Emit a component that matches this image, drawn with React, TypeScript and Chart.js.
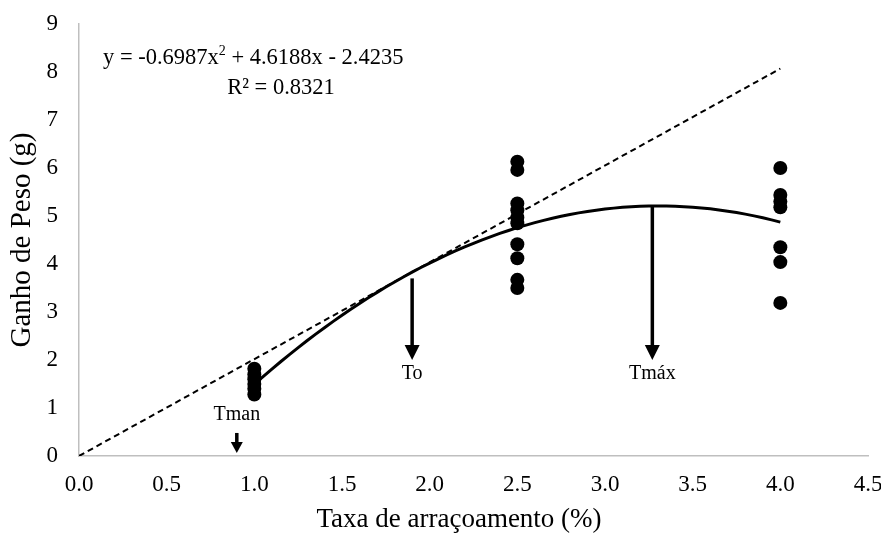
import React, { useEffect, useRef } from "react";
import { Chart, registerables } from "chart.js";

Chart.register(...registerables);

// ---- data ----
const gainAt10 = [1.82, 1.7, 1.6, 1.5, 1.4, 1.28];
const gainAt25 = [6.13, 5.96, 5.26, 5.12, 4.97, 4.85, 4.41, 4.12, 3.67, 3.5];
const gainAt40 = [6.0, 5.44, 5.3, 5.18, 4.35, 4.04, 3.19];
const feedRates = [1.0, 2.5, 4.0];

// trendline shown in the chart: y = a x^2 + b x + c
const trendCoef = [-0.6987, 4.6188, -2.4235];
const trendRange = [1.0, 4.0];
const rSquared = "0.8321";

// dashed tangent line through the origin
const tangentX = [0.0, 4.0];
const tangentY = [0.0, 8.07];

// reference arrows
const arrowLabels = ["Tman", "To", "Tmáx"];
const arrowX = [0.9, 1.9, 3.27];
const arrowTop = [0.48, 3.7, 5.21];
const arrowTip = [0.06, 2.0, 2.0];
const arrowLabelY = [0.85, 1.72, 1.72];

const xTicks = [0, 0.5, 1, 1.5, 2, 2.5, 3, 3.5, 4, 4.5];
const xTitle = "Taxa de arraçoamento (%)";
const yTitle = "Ganho de Peso (g)";

const FONT = "'Liberation Serif', 'Times New Roman', serif";

function buildTrend() {
  const pts: { x: number; y: number }[] = [];
  const [a, b, c] = trendCoef;
  const n = 60;
  for (let i = 0; i <= n; i++) {
    const x = trendRange[0] + ((trendRange[1] - trendRange[0]) * i) / n;
    pts.push({ x, y: a * x * x + b * x + c });
  }
  return pts;
}

const annotationPlugin = {
  id: "annotations",
  afterDatasetsDraw(chart: any) {
    const ctx: CanvasRenderingContext2D = chart.ctx;
    const xs = chart.scales.x;
    const ys = chart.scales.y;
    ctx.save();
    ctx.fillStyle = "#000";
    ctx.strokeStyle = "#000";

    // arrows
    arrowX.forEach((xv, i) => {
      const px = xs.getPixelForValue(xv);
      const pTop = ys.getPixelForValue(arrowTop[i]);
      const pTip = ys.getPixelForValue(arrowTip[i]);
      const headLen = i === 0 ? 11 : 15;
      const headHalf = i === 0 ? 6 : 7.5;
      ctx.lineWidth = 3.5;
      ctx.beginPath();
      ctx.moveTo(px, pTop);
      ctx.lineTo(px, pTip - headLen + 1);
      ctx.stroke();
      ctx.beginPath();
      ctx.moveTo(px - headHalf, pTip - headLen);
      ctx.lineTo(px + headHalf, pTip - headLen);
      ctx.lineTo(px, pTip);
      ctx.closePath();
      ctx.fill();

      ctx.font = `20px ${FONT}`;
      ctx.textAlign = "center";
      ctx.textBaseline = "middle";
      ctx.fillText(arrowLabels[i], px, ys.getPixelForValue(arrowLabelY[i]));
    });

    // equation
    ctx.textBaseline = "middle";
    ctx.textAlign = "left";
    ctx.font = `22.5px ${FONT}`;
    const eqY = 58;
    let cx = 103;
    const p1 = `y = ${trendCoef[0].toFixed(4)}x`;
    ctx.fillText(p1, cx, eqY);
    cx += ctx.measureText(p1).width;
    ctx.font = `14px ${FONT}`;
    ctx.fillText("2", cx, eqY - 7);
    cx += ctx.measureText("2").width;
    ctx.font = `22.5px ${FONT}`;
    const p2 = ` + ${trendCoef[1].toFixed(4)}x - ${Math.abs(trendCoef[2]).toFixed(4)}`;
    ctx.fillText(p2, cx, eqY);
    ctx.textAlign = "center";
    ctx.fillText(`R² = ${rSquared}`, 281, 88);

    // x axis title
    ctx.font = `27px ${FONT}`;
    ctx.textAlign = "center";
    ctx.textBaseline = "middle";
    ctx.fillText(xTitle, 459, 520);
    ctx.restore();
  },
};

export default function App() {
  const canvasRef = useRef<HTMLCanvasElement | null>(null);

  useEffect(() => {
    if (!canvasRef.current) return;
    const pointStyle = {
      type: "scatter" as const,
      showLine: false,
      pointRadius: 7,
      pointHoverRadius: 7,
      backgroundColor: "#000",
      borderColor: "#000",
      borderWidth: 0,
      order: 0,
    };
    const chart = new Chart(canvasRef.current, {
      type: "scatter",
      data: {
        datasets: [
          { ...pointStyle, label: "1.0", data: gainAt10.map((y) => ({ x: feedRates[0], y })) },
          { ...pointStyle, label: "2.5", data: gainAt25.map((y) => ({ x: feedRates[1], y })) },
          { ...pointStyle, label: "4.0", data: gainAt40.map((y) => ({ x: feedRates[2], y })) },
          {
            type: "scatter",
            label: "trend",
            data: buildTrend(),
            showLine: true,
            pointRadius: 0,
            borderColor: "#000",
            borderWidth: 3,
            order: 2,
          } as any,
          {
            type: "scatter",
            label: "tangent",
            data: tangentX.map((x, i) => ({ x, y: tangentY[i] })),
            showLine: true,
            pointRadius: 0,
            borderColor: "#000",
            borderWidth: 2,
            borderDash: [6, 4],
            order: 3,
          } as any,
        ],
      },
      options: {
        animation: false,
        responsive: false,
        maintainAspectRatio: false,
        layout: { padding: { top: 24, right: 13, left: 0, bottom: 0 } },
        plugins: { legend: { display: false }, tooltip: { enabled: false } },
        scales: {
          x: {
            type: "linear",
            min: 0,
            max: 4.5,
            afterBuildTicks: (s: any) => {
              s.ticks = xTicks.map((v) => ({ value: v }));
            },
            ticks: {
              callback: (v: any) => Number(v).toFixed(1),
              color: "#000",
              font: { family: FONT, size: 23 },
              padding: 15,
              maxRotation: 0,
            },
            grid: { display: false, drawTicks: false },
            border: { display: true, color: "#bfbfbf", width: 1.5 },
            title: { display: false, text: xTitle },
            afterFit: (s: any) => {
              s.height = 80;
              s.paddingLeft = 0;
              s.paddingRight = 0;
            },
          },
          y: {
            type: "linear",
            min: 0,
            max: 9,
            ticks: {
              stepSize: 1,
              color: "#000",
              font: { family: FONT, size: 23 },
              padding: 21,
            },
            grid: { display: false, drawTicks: false },
            border: { display: true, color: "#bfbfbf", width: 1.5 },
            title: {
              display: true,
              text: yTitle,
              color: "#000",
              font: { family: FONT, size: 29 },
              padding: { top: 5, bottom: 0 },
            },
            afterFit: (s: any) => {
              s.width = 79;
              s.paddingTop = 0;
              s.paddingBottom = 0;
            },
          },
        },
      },
      plugins: [annotationPlugin],
    } as any);
    return () => chart.destroy();
  }, []);

  return (
    <div style={{ position: "fixed", left: 0, top: 0, width: 881, height: 536, background: "#fff" }}>
      <canvas ref={canvasRef} width={881} height={536} style={{ display: "block" }} />
    </div>
  );
}
